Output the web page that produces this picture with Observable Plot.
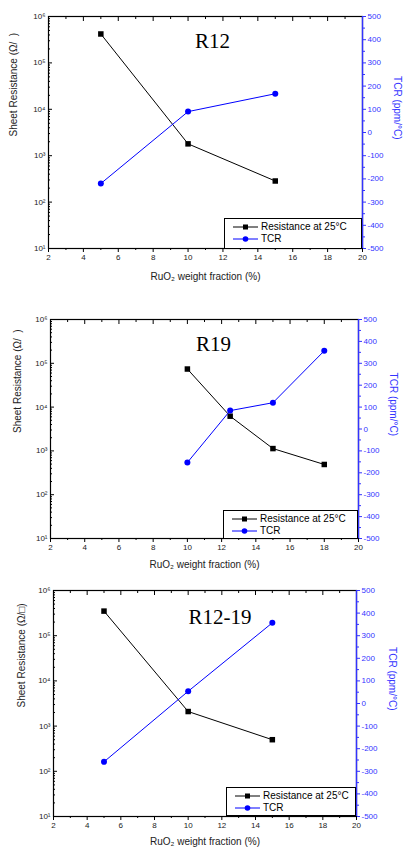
<!DOCTYPE html>
<html><head><meta charset="utf-8">
<script src="https://cdn.jsdelivr.net/npm/d3@7"></script>
<script src="https://cdn.jsdelivr.net/npm/@observablehq/plot@0.6"></script>
<style>
body{margin:0;background:#fff;font-family:"Liberation Sans",Arial,sans-serif;overflow:hidden;}
.panel{position:relative;width:404px;}
.panel svg.plot-layer{position:absolute;left:0;top:0;}
.legend{position:absolute;box-sizing:border-box;border:1px solid #000;background:#fff;font-size:10px;line-height:12px;padding:2px 0 0 6px;color:#000;}
.legend .row{display:flex;align-items:center;height:12px;white-space:nowrap;}
.legend svg{margin-right:2px;}
</style>
</head><body>
<div id="chart"></div>
<script>
// ---- data ----
const xTicks = [2, 4, 6, 8, 10, 12, 14, 16, 18, 20];
const xMinor = [3, 5, 7, 9, 11, 13, 15, 17, 19];
const resTicks = [1e1, 1e2, 1e3, 1e4, 1e5, 1e6];
const resTickLabels = ["10¹", "10²", "10³", "10⁴", "10⁵", "10⁶"];
const tcrTicks = [-500, -400, -300, -200, -100, 0, 100, 200, 300, 400, 500];
const tcrMinor = [-450, -350, -250, -150, -50, 50, 150, 250, 350, 450];

const r12X = [5, 10, 15];
const r12Res = [4.2e5, 1800, 285];
const r12Tcr = [-220, 90, 167];

const r19X = [10, 12.5, 15, 18];
const r19Res = [7.4e4, 6200, 1130, 490];
const r19Tcr = [-153, 84, 120, 357];

const r1219X = [5, 10, 15];
const r1219Res = [3.5e5, 2100, 500];
const r1219Tcr = [-258, 54, 357];

const titles = ["R12", "R19", "R12-19"];
const xLabel = "RuO₂ weight fraction (%)";
const yLabels = ["Sheet Resistance (Ω/  )", "Sheet Resistance (Ω/  )", "Sheet Resistance (Ω/□)"];
const y2Label = "TCR (ppm/°C)";
const legendLabels = ["Resistance at 25°C", "TCR"];

// ---- layout ----
const BLUE = "#0000ff";
const AXBLUE = "#3333ff";
const panels = [
  {title: titles[0], yLabel: yLabels[0], x: r12X, res: r12Res, tcr: r12Tcr,
   height: 285, mt: 16, mb: 37, ml: 48, mr: 42, tdx: 7, tdy: 31, ylx: -35, y2x: 35, xly: 28,
   legend: {left: 224, top: 218, width: 138, height: 31}},
  {title: titles[1], yLabel: yLabels[1], x: r19X, res: r19Res, tcr: r19Tcr,
   height: 285, mt: 34, mb: 32, ml: 50, mr: 46, tdx: 9, tdy: 31, ylx: -33, y2x: 35, xly: 26,
   legend: {left: 223, top: 510, width: 135, height: 29}},
  {title: titles[2], yLabel: yLabels[2], x: r1219X, res: r1219Res, tcr: r1219Tcr,
   height: 278, mt: 20, mb: 32, ml: 53, mr: 48, tdx: 15, tdy: 33, ylx: -32, y2x: 36, xly: 25,
   legend: {left: 226, top: 787, width: 130, height: 29}}
];

const root = document.getElementById("chart");
let offset = 0;
const blank = () => "";

panels.forEach((cfg) => {
  const div = document.createElement("div");
  div.className = "panel";
  div.style.height = cfg.height + "px";
  root.appendChild(div);

  const data = cfg.x.map((x, i) => ({x, res: cfg.res[i], tcr: cfg.tcr[i]}));
  const common = {
    width: 404, height: cfg.height,
    marginTop: cfg.mt, marginBottom: cfg.mb, marginLeft: cfg.ml, marginRight: cfg.mr,
    className: "plot-layer",
    style: {fontFamily: "Liberation Sans, Arial, sans-serif", fontSize: "8px", background: "transparent", overflow: "visible"}
  };

  const A = Plot.plot({
    ...common,
    x: {domain: [2, 20], label: null},
    y: {type: "log", domain: [10, 1e6], label: null},
    marks: [
      Plot.frame({stroke: "black", strokeWidth: 1.2}),
      Plot.axisX({ticks: xTicks, tickSize: 4, tickPadding: 2, tickFormat: d => String(d), label: null, fill: "#222"}),
      Plot.axisX({ticks: xMinor, tickSize: 2, tickFormat: blank, label: null}),
      Plot.axisX({anchor: "top", ticks: xTicks, tickSize: -4, tickFormat: blank, label: null}),
      Plot.axisX({anchor: "top", ticks: xMinor, tickSize: -2, tickFormat: blank, label: null}),
      Plot.axisY({ticks: resTicks, tickSize: 0, tickPadding: 3, tickFormat: d => resTickLabels[resTicks.indexOf(d)], label: null, fill: "#222"}),
      Plot.axisY({ticks: resTicks, tickSize: -4, tickFormat: blank, label: null}),
      Plot.axisY({ticks: d3.range(1, 6).flatMap(e => d3.range(2, 10).map(m => m * 10 ** e)), tickSize: -2, tickFormat: blank, label: null}),
      Plot.line(data, {x: "x", y: "res", stroke: "black", strokeWidth: 1}),
      Plot.dot(data, {x: "x", y: "res", symbol: "square", fill: "black", r: 3.1}),
      Plot.text([cfg.title], {frameAnchor: "top", dx: cfg.tdx, dy: cfg.tdy, lineAnchor: "bottom", fontFamily: "Liberation Serif, Times New Roman, serif", fontSize: 21, fill: "black"}),
      Plot.text([xLabel], {frameAnchor: "bottom", dy: cfg.xly, lineAnchor: "middle", fontSize: 10, fill: "#222"}),
      Plot.text([cfg.yLabel], {frameAnchor: "left", dx: cfg.ylx, dy: 4, rotate: -90, lineAnchor: "middle", fontSize: 10, fill: "#222"})
    ]
  });

  const B = Plot.plot({
    ...common,
    x: {domain: [2, 20], axis: null},
    y: {domain: [-500, 500], axis: null},
    marks: [
      Plot.ruleX([20], {stroke: AXBLUE, strokeWidth: 1.4}),
      Plot.axisY({anchor: "right", ticks: tcrTicks, tickSize: 3, tickPadding: 2, tickFormat: d => String(d), label: null, stroke: AXBLUE, fill: AXBLUE}),
      Plot.axisY({anchor: "right", ticks: tcrMinor, tickSize: 2, tickFormat: blank, label: null, stroke: AXBLUE}),
      Plot.line(data, {x: "x", y: "tcr", stroke: BLUE, strokeWidth: 1}),
      Plot.dot(data, {x: "x", y: "tcr", fill: BLUE, r: 3}),
      Plot.text([y2Label], {frameAnchor: "right", dx: cfg.y2x, dy: 7, rotate: 90, lineAnchor: "middle", fontSize: 10, fill: AXBLUE})
    ]
  });

  div.appendChild(A);
  div.appendChild(B);

  // legend
  const lg = document.createElement("div");
  lg.className = "legend";
  lg.style.left = cfg.legend.left + "px";
  lg.style.top = (cfg.legend.top - offset) + "px";
  lg.style.width = cfg.legend.width + "px";
  lg.style.height = cfg.legend.height + "px";
  const specs = [{color: "black", shape: "square"}, {color: BLUE, shape: "circle"}];
  specs.forEach((s, i) => {
    const row = document.createElement("div");
    row.className = "row";
    const svg = d3.create("svg").attr("width", 28).attr("height", 12);
    svg.append("line").attr("x1", 2).attr("x2", 27).attr("y1", 6).attr("y2", 6).attr("stroke", s.color).attr("stroke-width", 1);
    if (s.shape === "square") svg.append("rect").attr("x", 12).attr("y", 3.5).attr("width", 5).attr("height", 5).attr("fill", s.color);
    else svg.append("circle").attr("cx", 14.5).attr("cy", 6).attr("r", 2.8).attr("fill", s.color);
    row.appendChild(svg.node());
    const t = document.createElement("span");
    t.textContent = legendLabels[i];
    row.appendChild(t);
    lg.appendChild(row);
  });
  div.appendChild(lg);
  offset += cfg.height;
});
</script>
</body></html>
